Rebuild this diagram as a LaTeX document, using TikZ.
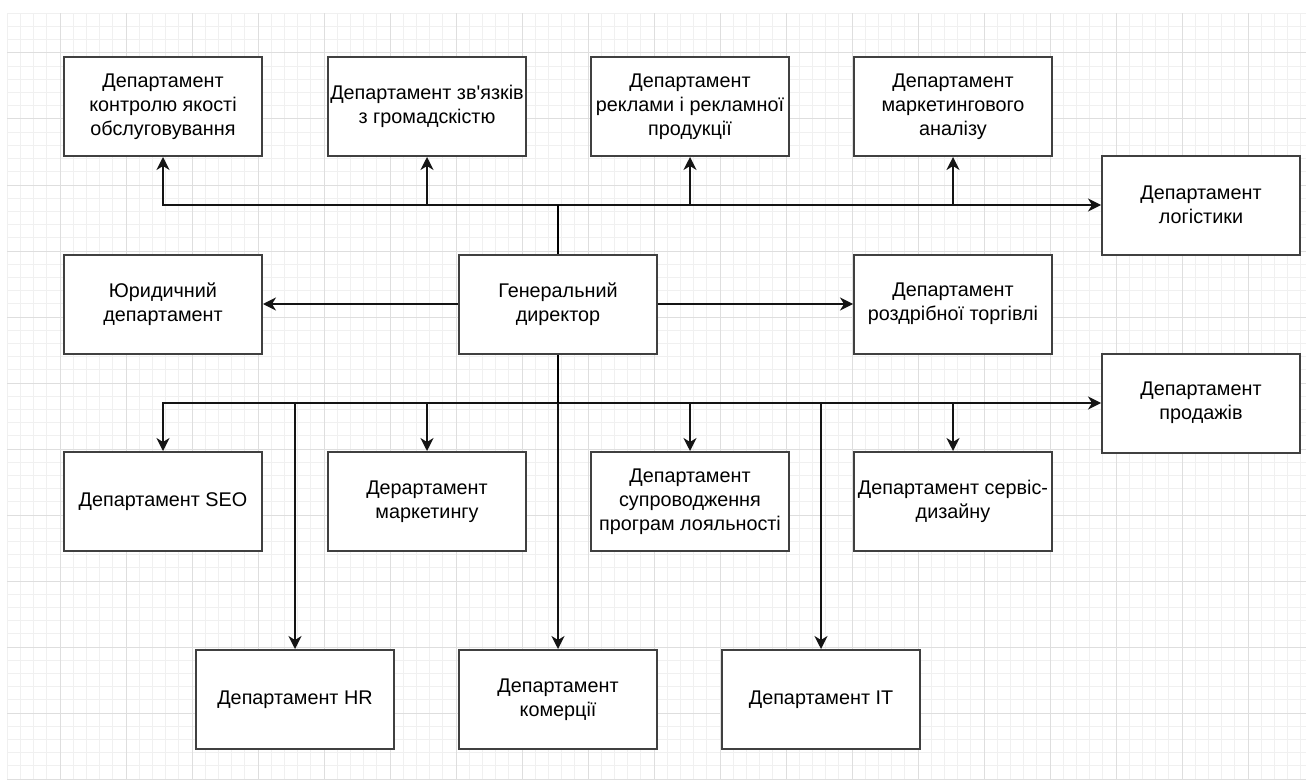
\documentclass[tikz,border=0pt]{standalone}
\usepackage{fontspec}
\newfontfamily\arial{Liberation Sans}
\usetikzlibrary{arrows.meta}
\definecolor{boxline}{RGB}{64,64,64}
\definecolor{gridminor}{RGB}{240,240,240}
\definecolor{gridmajor}{RGB}{222,222,222}
\definecolor{wire}{RGB}{20,20,20}
\tikzset{
  dept/.style={draw=boxline, line width=2pt, fill=white, rectangle,
    minimum width=198pt, minimum height=99pt, inner sep=2pt, align=center,
    font=\arial\fontsize{19.8}{23.8}\selectfont},
  arr/.style={draw=wire, line width=1.6pt,
    -{Stealth[length=13pt,width=13pt,inset=4pt]}},
  trunk/.style={draw=black, line width=2.6pt},
  gminor/.style={draw=gridminor, line width=1pt},
  gmajor/.style={draw=gridmajor, line width=1pt}
}
\begin{document}
\begin{tikzpicture}[x=1pt,y=-1pt]
\useasboundingbox (0,0) rectangle (1306,781);
\fill[white] (0,0) rectangle (1306,781);

% background grid
\foreach \i in {0,...,98} \draw[gminor] ({7.2+13.2*\i},13.4) -- ({7.2+13.2*\i},779);
\foreach \j in {0,...,58} \draw[gminor] (7.2,{13.4+13.2*\j}) -- (1306,{13.4+13.2*\j});
\foreach \i in {0,...,18} \draw[gmajor] ({60+66*\i},13.4) -- ({60+66*\i},779);
\foreach \j in {0,...,11} \draw[gmajor] (7.2,{53+66*\j}) -- (1306,{53+66*\j});

% top row
\node[dept] (qual) at (163,106.5) {Департамент\\контролю якості\\обслуговування};
\node[dept] (pr)   at (427,106.5) {Департамент зв'язків\\з громадскістю};
\node[dept] (adv)  at (690,106.5) {Департамент\\реклами і рекламної\\продукції};
\node[dept] (mana) at (953,106.5) {Департамент\\маркетингового\\аналізу};
\node[dept] (log)  at (1201,205) {Департамент\\логістики};

% middle row
\node[dept] (legal)  at (163,304) {Юридичний\\департамент};
\node[dept] (ceo)    at (558,304) {Генеральний\\директор};
\node[dept] (retail) at (953,304) {Департамент\\роздрібної торгівлі};
\node[dept] (sales)  at (1201,403) {Департамент\\продажів};

% lower row
\node[dept] (seo)  at (163,501.5) {Департамент SEO};
\node[dept] (mkt)  at (427,501.5) {Дерартамент\\маркетингу};
\node[dept] (loy)  at (690,501.5) {Департамент\\супроводження\\програм лояльності};
\node[dept] (srv)  at (953,501.5) {Департамент сервіс-\\дизайну};

% bottom row
\node[dept] (hr)  at (295,699.5) {Департамент HR};
\node[dept] (com) at (558,699.5) {Департамент\\комерції};
\node[dept] (it)  at (821,699.5) {Департамент IT};

% bus junctions
\coordinate (topbus) at (558,205);
\coordinate (botbus) at (558,403);

% upper branch
\draw[arr] (topbus) -- (log.west);
\draw[arr] (topbus) -| (qual.south);
\draw[arr] (topbus) -| (pr.south);
\draw[arr] (topbus) -| (adv.south);
\draw[arr] (topbus) -| (mana.south);
\draw[trunk] (ceo.north) -- (topbus);

% side links
\draw[arr] (ceo.west) -- (legal.east);
\draw[arr] (ceo.east) -- (retail.west);

% lower branch
\draw[arr] (botbus) -- (sales.west);
\draw[arr] (botbus) -| (seo.north);
\draw[arr] (botbus) -| (mkt.north);
\draw[arr] (botbus) -| (loy.north);
\draw[arr] (botbus) -| (srv.north);
\draw[arr] (botbus) -| (hr.north);
\draw[arr] (botbus) -| (it.north);
\draw[arr] (botbus) -- (com.north);
\draw[trunk] (ceo.south) -- (botbus);
\end{tikzpicture}
\end{document}
